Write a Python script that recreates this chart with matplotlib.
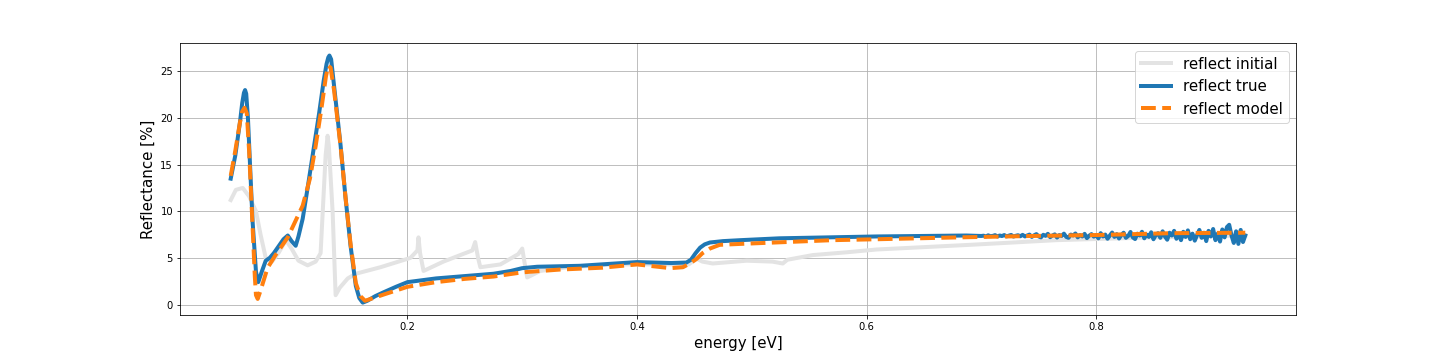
import numpy as np
import matplotlib
matplotlib.use("Agg")
import matplotlib.pyplot as plt

# reflect initial (grey)
e_init = [0.046, 0.0505, 0.0565, 0.062, 0.068, 0.072, 0.0765, 0.082, 0.088, 0.094,
          0.099, 0.105, 0.113, 0.12, 0.1243, 0.1287, 0.1304, 0.1315, 0.1348, 0.1374,
          0.141, 0.148, 0.155, 0.1765, 0.2026, 0.2087, 0.2096, 0.211, 0.214, 0.2313,
          0.2565, 0.259, 0.2615, 0.2635, 0.281, 0.2965, 0.300, 0.302, 0.3043, 0.3157,
          0.34, 0.38, 0.42, 0.445, 0.452, 0.457, 0.466, 0.4957, 0.518, 0.527,
          0.531, 0.553, 0.5826, 0.6087, 0.69, 0.765, 0.85, 0.93]
r_init = [11.2, 12.3, 12.5, 11.6, 10.0, 7.5, 5.0, 4.6, 5.6, 6.9,
          6.0, 4.7, 4.2, 4.6, 5.5, 16.0, 18.1, 17.0, 9.9, 1.0,
          1.8, 2.8, 3.3, 4.0, 5.0, 5.8, 7.2, 5.5, 3.6, 4.6,
          5.8, 6.7, 5.0, 4.0, 4.3, 5.4, 6.0, 4.5, 2.9, 3.6,
          4.0, 4.3, 4.3, 4.3, 4.9, 4.6, 4.4, 4.7, 4.6, 4.4,
          4.8, 5.3, 5.6, 5.9, 6.4, 6.9, 7.2, 7.4]

# reflect true (blue): smooth part, then the noisy high-energy tail
e_true = [0.046, 0.050, 0.054, 0.056, 0.0575, 0.0585, 0.0595, 0.061, 0.063, 0.065,
          0.068, 0.070, 0.073, 0.0765, 0.080, 0.0835, 0.088, 0.092, 0.0957, 0.099,
          0.1026, 0.105, 0.1087, 0.113, 0.118, 0.123, 0.127, 0.1295, 0.131, 0.132,
          0.1335, 0.136, 0.1417, 0.146, 0.1504, 0.155, 0.158, 0.161, 0.165, 0.172,
          0.179, 0.19, 0.2, 0.225, 0.25, 0.275, 0.29, 0.3, 0.313, 0.35,
          0.4, 0.43, 0.443, 0.447, 0.451, 0.455, 0.459, 0.4635, 0.475, 0.49,
          0.524, 0.609, 0.687,
          0.700, 0.702, 0.704, 0.706, 0.708, 0.710, 0.712, 0.714, 0.716, 0.718,
          0.720, 0.722, 0.724, 0.726, 0.728, 0.730, 0.732, 0.734, 0.736, 0.738,
          0.740, 0.742, 0.744, 0.746, 0.748, 0.750, 0.752, 0.754, 0.756, 0.758,
          0.760, 0.762, 0.764, 0.766, 0.768, 0.770, 0.772, 0.774, 0.776, 0.778,
          0.780, 0.782, 0.784, 0.786, 0.788, 0.790, 0.792, 0.794, 0.796, 0.798,
          0.800, 0.802, 0.804, 0.806, 0.808, 0.810, 0.812, 0.814, 0.816, 0.818,
          0.820, 0.822, 0.824, 0.826, 0.828, 0.830, 0.832, 0.834, 0.836, 0.838,
          0.840, 0.842, 0.844, 0.846, 0.848, 0.850, 0.852, 0.854, 0.856, 0.858,
          0.860, 0.862, 0.864, 0.866, 0.868, 0.870, 0.872, 0.874, 0.876, 0.878,
          0.880, 0.882, 0.884, 0.886, 0.888, 0.890, 0.892, 0.894, 0.896, 0.898,
          0.900, 0.902, 0.904, 0.906, 0.908, 0.910, 0.912, 0.914, 0.916, 0.918,
          0.920, 0.922, 0.924, 0.926, 0.928, 0.930]
r_true = [13.5, 16.0, 19.5, 21.6, 22.7, 23.0, 22.6, 20.0, 14.5, 9.0,
          3.5, 2.4, 3.5, 4.7, 5.0, 5.5, 6.3, 7.0, 7.4, 6.8,
          6.3, 7.3, 9.2, 12.5, 16.5, 20.5, 24.0, 25.8, 26.5, 26.7,
          26.3, 23.5, 17.1, 11.5, 6.3, 2.0, 0.7, 0.2, 0.4, 0.9,
          1.3, 1.9, 2.4, 2.8, 3.05, 3.3, 3.6, 3.9, 4.05, 4.15,
          4.55, 4.45, 4.5, 4.8, 5.5, 6.1, 6.45, 6.65, 6.8, 6.9,
          7.1, 7.3, 7.4,
          7.35, 7.38, 7.30, 7.42, 7.33, 7.36, 7.44, 7.30, 7.40, 7.34,
          7.45, 7.31, 7.38, 7.46, 7.29, 7.37, 7.43, 7.32, 7.47, 7.30,
          7.40, 7.50, 7.25, 7.42, 7.55, 7.30, 7.20, 7.48, 7.36, 7.58,
          7.22, 7.40, 7.52, 7.18, 7.45, 7.35, 7.60, 7.25, 7.15, 7.50,
          7.40, 7.62, 7.20, 7.45, 7.30, 7.58, 7.12, 7.38, 7.55, 7.28,
          7.45, 7.10, 7.65, 7.30, 7.50, 7.05, 7.40, 7.72, 7.25, 7.55,
          7.08, 7.45, 7.70, 7.15, 7.35, 7.78, 7.20, 7.02, 7.60, 7.40,
          7.80, 7.10, 7.50, 7.25, 7.75, 7.00, 7.45, 7.65, 7.15, 7.85,
          7.30, 6.95, 7.70, 7.40, 7.90, 7.05, 7.55, 6.90, 7.80, 7.25,
          7.95, 7.00, 7.60, 6.85, 7.45, 8.00, 7.15, 7.70, 6.80, 7.90,
          7.30, 8.10, 6.90, 7.60, 6.75, 8.05, 7.20, 8.30, 8.55, 7.40,
          6.60, 7.85, 6.50, 8.00, 6.70, 7.40]

# reflect model (orange)
e_model = [0.046, 0.050, 0.054, 0.056, 0.058, 0.060, 0.062, 0.065, 0.067, 0.068,
           0.0695, 0.072, 0.078, 0.085, 0.0957, 0.1087, 0.115, 0.12, 0.125, 0.129,
           0.131, 0.133, 0.136, 0.1417, 0.146, 0.1504, 0.155, 0.159, 0.163, 0.168,
           0.18, 0.2, 0.225, 0.25, 0.275, 0.3, 0.333, 0.37, 0.4, 0.429,
           0.44, 0.446, 0.452, 0.457, 0.4635, 0.472, 0.49, 0.53, 0.57, 0.609,
           0.68, 0.744, 0.8, 0.866, 0.93]
r_model = [13.8, 16.5, 19.5, 20.7, 21.1, 20.5, 16.5, 8.5, 3.0, 1.0,
           0.6, 1.5, 3.9, 5.3, 7.2, 10.6, 13.5, 17.0, 21.0, 24.5,
           25.6, 25.4, 23.0, 17.0, 11.5, 6.5, 2.3, 0.9, 0.4, 0.6,
           1.1, 1.9, 2.4, 2.75, 3.0, 3.45, 3.75, 3.95, 4.3, 3.9,
           4.0, 4.4, 4.9, 5.5, 6.0, 6.4, 6.5, 6.7, 6.9, 7.0,
           7.2, 7.35, 7.45, 7.65, 7.7]

fig, ax = plt.subplots(figsize=(20, 5), dpi=72)
fig.subplots_adjust(bottom=0.125)
ax.plot(e_init, r_init, color='#e3e3e3', lw=4, label='reflect initial')
ax.plot(e_true, r_true, color='tab:blue', lw=4, label='reflect true')
ax.plot(e_model, r_model, '--', color='tab:orange', lw=4, label='reflect model')
ax.set_xlabel('energy [eV]', fontsize=15)
ax.set_ylabel('Reflectance [%]', fontsize=15)
ax.grid(True)
ax.legend(loc='upper right', fontsize=15)
fig.savefig('out.png')
